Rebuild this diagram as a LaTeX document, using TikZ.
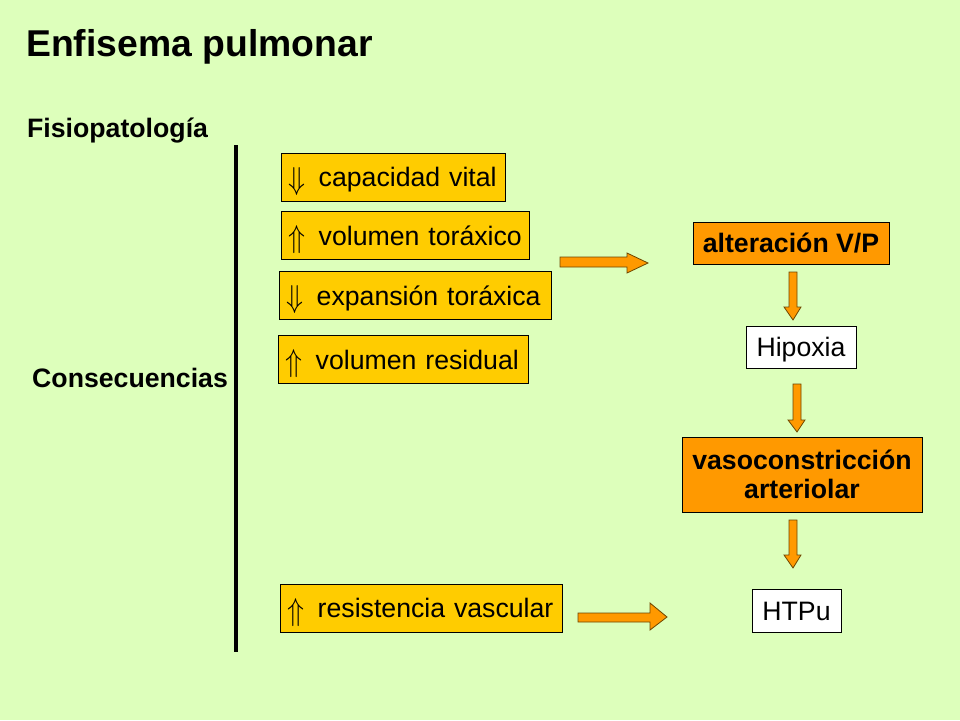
\documentclass[tikz,border=0pt]{standalone}
\usepackage{fontspec}
\setmainfont{Liberation Sans}
\newcommand{\dnarr}{\raisebox{-2.5pt}{\resizebox{17pt}{22pt}{$\Downarrow$}}}
\newcommand{\uparr}{\raisebox{-2.5pt}{\resizebox{17pt}{22pt}{$\Uparrow$}}}
\begin{document}
\begin{tikzpicture}[x=1pt,y=-1pt,
  ybox/.style={draw=black, line width=0.8pt, fill=ybx, anchor=west, minimum height=48, inner xsep=7, text height=19, text depth=0, align=left, font=\fontsize{26.67}{30}\selectfont},
  obox/.style={draw=black, line width=0.8pt, fill=obx, font=\bfseries\fontsize{26.67}{30}\selectfont, align=center, inner sep=0},
  wbox/.style={draw=black, line width=0.8pt, fill=white, font=\fontsize{26.67}{30}\selectfont, inner sep=0, text height=19, text depth=0},
  barr/.style={fill=obx, draw=arrline, line width=0.8pt, line join=miter},
  lbl/.style={anchor=base west, inner sep=0, font=\bfseries\fontsize{26.67}{30}\selectfont}
]
\definecolor{bgc}{RGB}{221,255,187}
\definecolor{ybx}{RGB}{255,204,0}
\definecolor{obx}{RGB}{255,153,0}
\definecolor{arrline}{RGB}{110,70,0}
\fill[bgc] (0,0) rectangle (960,720);
\useasboundingbox (0,0) rectangle (960,720);

\node[lbl, font=\bfseries\fontsize{37.33}{40}\selectfont] (title) at (26,56) {Enfisema pulmonar};
\node[lbl] (fisio) at (27,137) {Fisiopatología};
\node[lbl] (cons) at (32,387) {Consecuencias};

\coordinate (vtop) at (236,145);
\coordinate (vbot) at (236,652);
\draw[line width=4pt] (vtop) -- (vbot);

\node[ybox, text width=210] (b1) at (281,177) {\dnarr\ \,capacidad vital};
\node[ybox, text width=234] (b2) at (281,235.5) {\uparr\ \,volumen toráxico};
\node[ybox, text width=258] (b3) at (279,295.5) {\dnarr\ \,expansión toráxica};
\node[ybox, text width=236] (b4) at (278,359.5) {\uparr\ \,volumen residual};
\node[ybox, text width=268] (b5) at (280,608) {\uparr\ \,resistencia vascular};

\node[obox, minimum width=196, minimum height=42] (alt) at (791,243) {alteración V/P};
\node[wbox, minimum width=110, minimum height=42] (hip) at (801,347) {Hipoxia};
\node[obox, minimum width=240, minimum height=75] (vaso) at (802,474.5) {vasoconstricción\\[-1pt]arteriolar};
\node[wbox, minimum width=89, minimum height=43] (htp) at (796.5,610.5) {HTPu};

% block arrows
\draw[barr] (560,257) -- (627,257) -- (627,253) -- (648,263) -- (627,273) -- (627,267) -- (560,267) -- cycle;
\draw[barr] (578,613) -- (650,613) -- (650,603) -- (667,617) -- (650,630) -- (650,622) -- (578,622) -- cycle;
\draw[barr] (789,272) -- (797,272) -- (797,307) -- (801,307) -- (793,320) -- (784,307) -- (789,307) -- cycle;
\draw[barr] (793,384) -- (801,384) -- (801,420) -- (805,420) -- (797,432) -- (788,420) -- (793,420) -- cycle;
\draw[barr] (789,520) -- (797,520) -- (797,555) -- (801,555) -- (793,568) -- (784,555) -- (789,555) -- cycle;
\end{tikzpicture}
\end{document}
